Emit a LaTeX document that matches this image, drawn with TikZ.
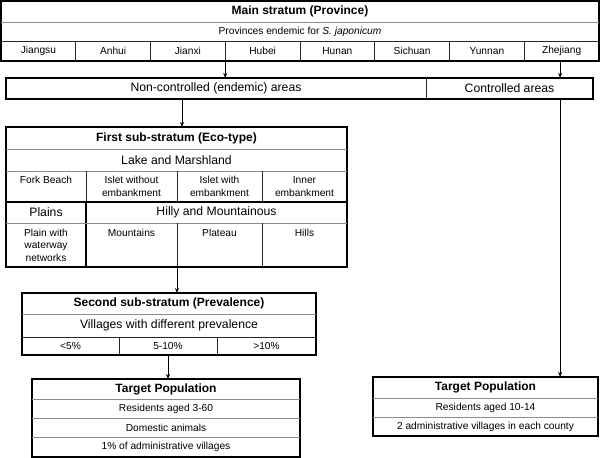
\documentclass[tikz,border=0pt]{standalone}
\usepackage{fontspec}
\setmainfont{Liberation Sans}
\usetikzlibrary{positioning,arrows.meta}
\tikzset{
  >={Stealth[length=5pt,width=4pt]},
  cell/.style 2 args={minimum width=#1,minimum height=#2,inner sep=0pt,outer sep=0pt,align=center},
  head/.style={font=\fontsize{12}{14}\selectfont\bfseries},
  mid/.style={font=\fontsize{12.2}{14}\selectfont},
  small/.style={font=\fontsize{10.2}{12.5}\selectfont},
  frame/.style={draw=black,line width=1.8pt},
  sep/.style={draw=black!85,line width=0.8pt},
  faint/.style={draw=black!45,line width=1pt},
  boldsep/.style={draw=black,line width=1.8pt},
  link/.style={->,line width=0.8pt},
}

\begin{document}
\begin{tikzpicture}[x=1pt,y=-1pt]
  \useasboundingbox (0,0) rectangle (600,458);

  % main stratum
  \node[cell={598}{21},head] (mainT) at (300,11.5) {Main stratum (Province)};
  \node[cell={598}{19},small,below=0pt of mainT] (prov)
       {Provinces endemic for \textit{S. japonicum}};
  \node[cell={74.75}{20},small,anchor=north west] (p1) at (prov.south west) {Jiangsu};
  \foreach \pname [count=\i from 2] in {Anhui,Jianxi,Hubei,Hunan,Sichuan,Yunnan,Zhejiang}{
    \pgfmathtruncatemacro\prevcol{\i-1}
    \node[cell={74.75}{20},small,right=0pt of p\prevcol] (p\i) {\pname};
  }

  % areas
  \node[cell={420}{21},mid] (nonctrl) at (216,88.5) {Non-controlled (endemic) areas};
  \node[cell={167}{21},mid,right=0pt of nonctrl] (ctrl) {Controlled areas};

  % first sub-stratum
  \node[cell={341}{22},head] (eco) at (176.5,138) {First sub-stratum (Eco-type)};
  \node[cell={341}{22},mid,below=0pt of eco] (lake) {Lake and Marshland};
  \node[cell={80}{31},small,anchor=north west] (fork) at (lake.south west) {Fork Beach\\\mbox{}};
  \node[cell={91}{31},small,right=0pt of fork] (islet1) {Islet without\\embankment};
  \node[cell={85}{31},small,right=0pt of islet1] (islet2) {Islet with\\embankment};
  \node[cell={85}{31},small,right=0pt of islet2] (inner) {Inner\\embankment};
  \node[cell={80}{21},mid,anchor=north west] (plains) at (fork.south west) {Plains};
  \node[cell={261}{21},mid,right=0pt of plains] (hilly) {Hilly and Mountainous};
  \node[cell={80}{44},small,anchor=north west] (water) at (plains.south west)
       {Plain with\\waterway\\networks};
  \node[cell={91}{44},small,right=0pt of water] (mount) {Mountains\\\mbox{}\\\mbox{}};
  \node[cell={85}{44},small,right=0pt of mount] (plateau) {Plateau\\\mbox{}\\\mbox{}};
  \node[cell={85}{44},small,right=0pt of plateau] (hills) {Hills\\\mbox{}\\\mbox{}};

  % second sub-stratum
  \node[cell={294}{21},head] (preval) at (169,303.5) {Second sub-stratum (Prevalence)};
  \node[cell={294}{23},mid,below=0pt of preval] (vill) {Villages with different prevalence};
  \node[cell={97}{18},small,anchor=north west] (lo) at (vill.south west) {<5\%};
  \node[cell={98}{18},small,right=0pt of lo] (md) {5-10\%};
  \node[cell={99}{18},small,right=0pt of md] (hi) {>10\%};

  % target populations
  \node[cell={268}{20},head] (tgtA) at (166,389) {Target Population};
  \node[cell={268}{19},small,below=0pt of tgtA] (resA) {Residents aged 3-60};
  \node[cell={268}{19},small,below=0pt of resA] (anim) {Domestic animals};
  \node[cell={268}{20},small,below=0pt of anim] (villA) {1\% of administrative villages};

  \node[cell={225}{21},head] (tgtB) at (485.5,387.5) {Target Population};
  \node[cell={225}{19},small,below=0pt of tgtB] (resB) {Residents aged 10-14};
  \node[cell={225}{19},small,below=0pt of resB] (villB) {2 administrative villages in each county};

  % frames and rules
  \draw[frame] (mainT.north west) rectangle (p8.south east);
  \draw[faint] (mainT.south west) -- (mainT.south east);
  \draw[sep] (prov.south west) -- (prov.south east);
  \foreach \i in {1,...,7}
    \draw[sep] (p\i.north east) -- (p\i.south east);

  \draw[frame] (nonctrl.north west) rectangle (ctrl.south east);
  \draw[sep] (nonctrl.north east) -- (nonctrl.south east);

  \draw[frame] (eco.north west) rectangle (hills.south east);
  \draw[faint] (eco.south west) -- (eco.south east);
  \draw[faint] (lake.south west) -- (lake.south east);
  \foreach \c in {fork,islet1,islet2}
    \draw[sep] (\c.north east) -- (\c.south east);
  \draw[boldsep] (fork.south west) -- (inner.south east);
  \draw[boldsep] (plains.north east) -- (water.south east);
  \draw[faint] (plains.south west) -- (hilly.south east);
  \foreach \c in {mount,plateau}
    \draw[sep] (\c.north east) -- (\c.south east);

  \draw[frame] (preval.north west) rectangle (hi.south east);
  \draw[faint] (preval.south west) -- (preval.south east);
  \draw[sep] (vill.south west) -- (vill.south east);
  \foreach \c in {lo,md}
    \draw[sep] (\c.north east) -- (\c.south east);

  \draw[frame] (tgtA.north west) rectangle (villA.south east);
  \foreach \c in {tgtA,resA,anim}
    \draw[faint] (\c.south west) -- (\c.south east);
  \draw[frame] (tgtB.north west) rectangle (villB.south east);
  \foreach \c in {tgtB,resB}
    \draw[faint] (\c.south west) -- (\c.south east);

  % connectors
  \coordinate (zj) at ([xshift=-1.5pt]p8.south);
  \coordinate (ecoin) at ([xshift=5.5pt]eco.north);
  \draw[link] (p3.south east) -- (p3.south east |- nonctrl.north);
  \draw[link] (zj |- p8.south east) -- (zj |- ctrl.north);
  \draw[link] (ecoin |- nonctrl.south) -- (ecoin);
  \draw[link] (zj |- ctrl.south) -- (zj |- tgtB.north);
  \draw[link] (mount.south east) -- (mount.south east |- preval.north);
  \draw[link] (md.south) -- (md.south |- tgtA.north);
\end{tikzpicture}
\end{document}
